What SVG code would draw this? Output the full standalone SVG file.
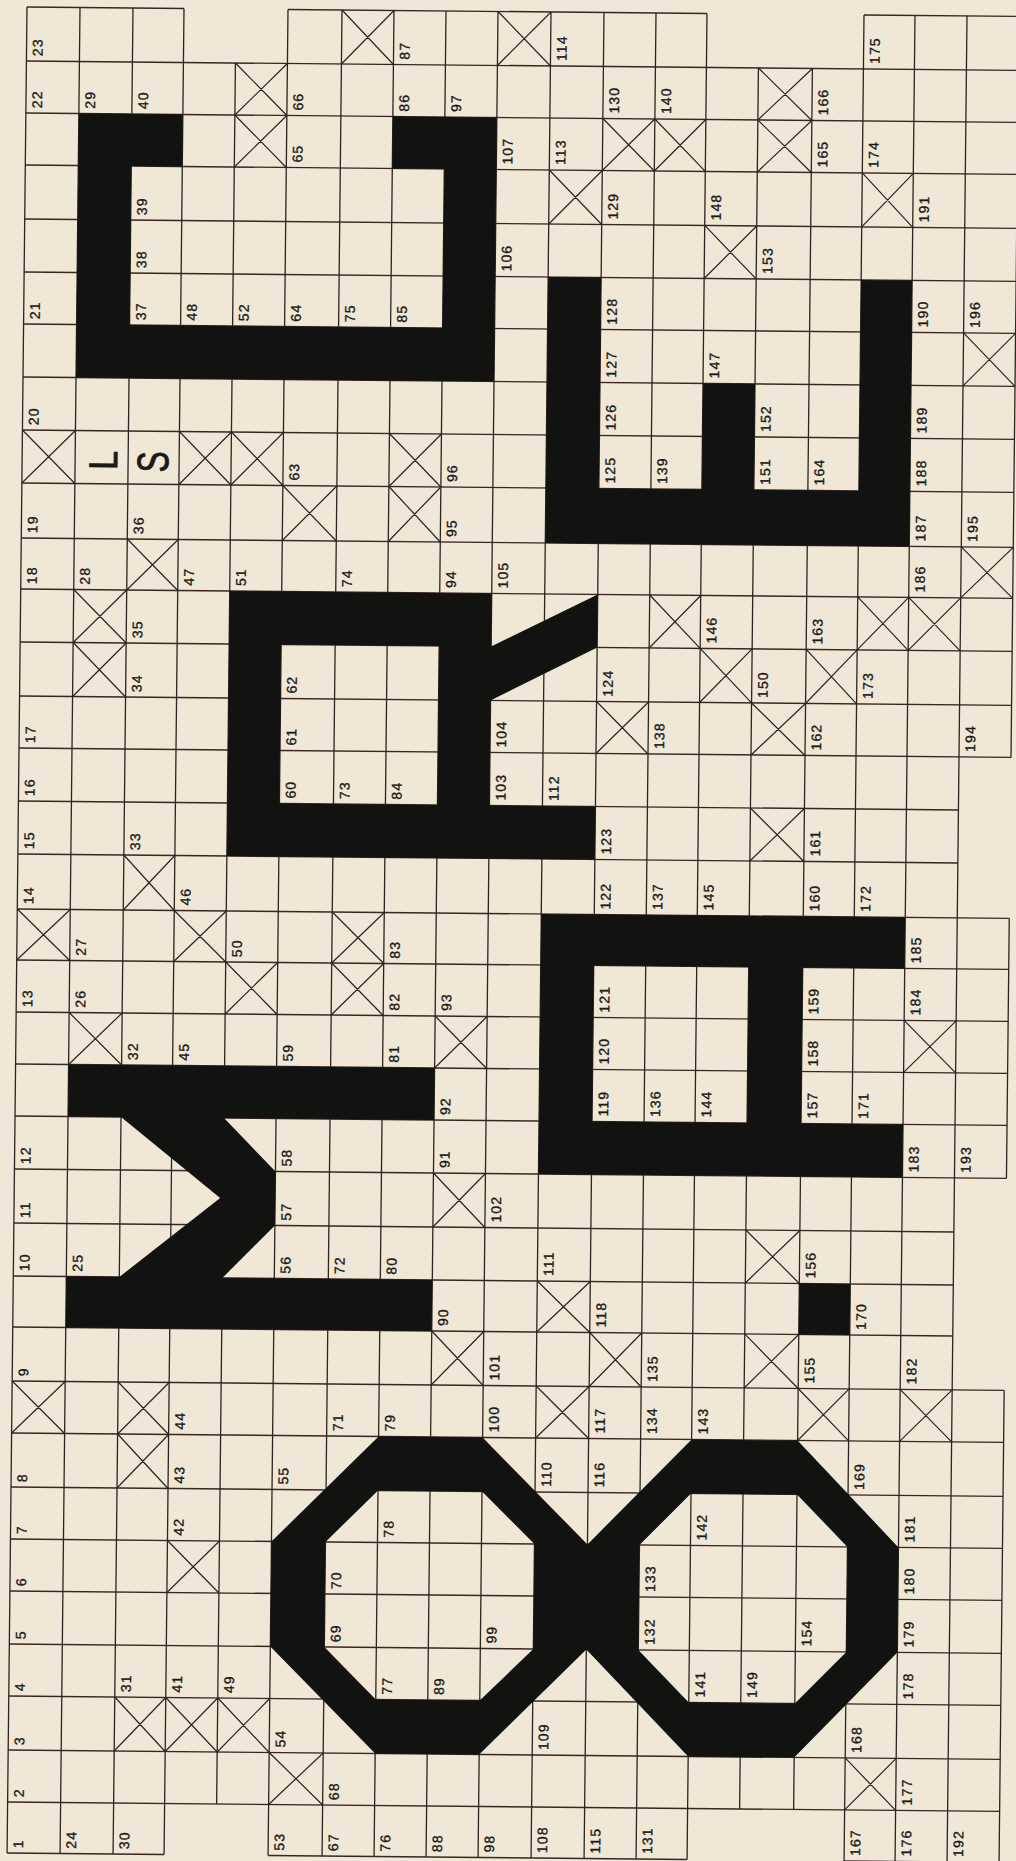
<svg xmlns="http://www.w3.org/2000/svg" width="1016" height="1861" viewBox="0 0 1016 1861">
<style>
.grid{fill:none;stroke:#2c2420;stroke-width:1.3}
.hl{fill:none;stroke:#3a2522;stroke-width:1.4}
.x{fill:none;stroke:#2a2522;stroke-width:1.2}
.blk{fill:#121311;fill-rule:evenodd}
.n text{font-family:"Liberation Sans",Arial,sans-serif;font-size:14px;letter-spacing:1.2px;fill:#1b1a17;stroke:#1b1a17;stroke-width:.35}
.n text.big{font-size:40px;letter-spacing:0;stroke-width:.9}
</style>
<rect width="1016" height="1861" fill="#f0e7d7"/>
<g transform="matrix(1 0.0095 -0.0108 1 1.08 -0.25)">
<g id="grid-horizontal" class="hl">
<path d="M26 7H183M287 7H706M863 7H1018M26 61H1018M26 113H1018M26 165H1018M26 219H1018M26 272H1018M26 324H1018M26 377H1018M26 430H1018M26 483H1018M26 538H1018M26 589H1018M26 642H1018M26 696H1018M26 748H1018M26 801H966M26 854H966M26 909H1018M26 960H1018M26 1012H1018M26 1064H1018M26 1116H1018M26 1169H1018M26 1223H966M26 1276H966M26 1327H966M26 1381H1018M26 1433H1018M26 1487H1018M26 1539H1018M26 1591H1018M26 1644H1018M26 1696H1018M26 1750H1018M26 1802H1018M26 1853H183M287 1853H706M863 1853H1018"/>
</g>
<g id="grid-vertical" class="grid">
<path d="M26 7V1853M79 7V1853M132 7V1853M183 7V1853M235 61V1802M287 7V1853M341 7V1853M393 7V1853M445 7V1853M497 7V1853M550 7V1853M603 7V1853M655 7V1853M706 7V1853M758 61V1802M812 61V1802M863 7V1853M914 7V1853M966 7V1853M1018 7V748M1018 909V1169M1018 1381V1853"/>
</g>
<g id="crosses" class="x">
<path d="M341 7L393 61M393 7L341 61M497 7L550 61M550 7L497 61M235 61L287 113M287 61L235 113M758 61L812 113M812 61L758 113M235 113L287 165M287 113L235 165M603 113L655 165M655 113L603 165M655 113L706 165M706 113L655 165M758 113L812 165M812 113L758 165M550 165L603 219M603 165L550 219M863 165L914 219M914 165L863 219M706 219L758 272M758 219L706 272M966 324L1018 377M1018 324L966 377M26 430L79 483M79 430L26 483M183 430L235 483M235 430L183 483M235 430L287 483M287 430L235 483M393 430L445 483M445 430L393 483M287 483L341 538M341 483L287 538M393 483L445 538M445 483L393 538M132 538L183 589M183 538L132 589M966 538L1018 589M1018 538L966 589M79 589L132 642M132 589L79 642M655 589L706 642M706 589L655 642M863 589L914 642M914 589L863 642M914 589L966 642M966 589L914 642M79 642L132 696M132 642L79 696M706 642L758 696M758 642L706 696M812 642L863 696M863 642L812 696M603 696L655 748M655 696L603 748M758 696L812 748M812 696L758 748M758 801L812 854M812 801L758 854M132 854L183 909M183 854L132 909M26 909L79 960M79 909L26 960M183 909L235 960M235 909L183 960M341 909L393 960M393 909L341 960M235 960L287 1012M287 960L235 1012M341 960L393 1012M393 960L341 1012M79 1012L132 1064M132 1012L79 1064M445 1012L497 1064M497 1012L445 1064M914 1012L966 1064M966 1012L914 1064M445 1169L497 1223M497 1169L445 1223M758 1223L812 1276M812 1223L758 1276M550 1276L603 1327M603 1276L550 1327M445 1327L497 1381M497 1327L445 1381M603 1327L655 1381M655 1327L603 1381M758 1327L812 1381M812 1327L758 1381M26 1381L79 1433M79 1381L26 1433M132 1381L183 1433M183 1381L132 1433M550 1381L603 1433M603 1381L550 1433M812 1381L863 1433M863 1381L812 1433M914 1381L966 1433M966 1381L914 1433M132 1433L183 1487M183 1433L132 1487M183 1539L235 1591M235 1539L183 1591M132 1696L183 1750M183 1696L132 1750M183 1696L235 1750M235 1696L183 1750M235 1696L287 1750M287 1696L235 1750M287 1750L341 1802M341 1750L287 1802M863 1750L914 1802M914 1750L863 1802"/>
</g>
<g id="letters">
<path id="letter-c" class="blk" d="M79 113H183V165H132V324H445V165H393V113H497V377H79Z"/>
<path id="letter-e" class="blk" d="M550 272H603V483H706V377H758V483H863V272H914V538H550Z"/>
<path id="letter-r" class="blk" d="M235 589H497V642L603 589V642L497 696V801H603V854H235ZM287 642V801H445V642Z"/>
<path id="letter-m" class="blk" d="M79 1064H445V1116H235L287 1169V1223L235 1276H445V1327H79V1276H132L232 1196L132 1116H79Z"/>
<path id="letter-a" class="blk" d="M550 909H914V960H812V1116H914V1169H550ZM603 960V1116H758V960Z"/>
<rect id="dot" class="blk" x="812" y="1276" width="51" height="51"/>
<path id="figure-8" class="blk" d="M393 1433H497L603 1539L706 1433H812L914 1539V1644L812 1750H706L603 1644L497 1750H393L287 1644V1539ZM393 1487L341 1539V1644L393 1696H497L550 1644V1539L497 1487ZM706 1487L655 1539V1644L706 1696H812L863 1644V1539L812 1487Z"/>
</g>
<g id="labels" class="n" transform="rotate(-90)">
<text x="-1848" y="42">1</text><text x="-1797" y="42">2</text><text x="-1745" y="42">3</text><text x="-1691" y="42">4</text><text x="-1639" y="42">5</text><text x="-1586" y="42">6</text><text x="-1534" y="42">7</text><text x="-1482" y="42">8</text><text x="-1376" y="42">9</text><text x="-1271" y="42">10</text><text x="-1218" y="42">11</text><text x="-1164" y="42">12</text><text x="-1007" y="42">13</text><text x="-904" y="42">14</text><text x="-849" y="42">15</text><text x="-796" y="42">16</text><text x="-743" y="42">17</text><text x="-584" y="42">18</text><text x="-533" y="42">19</text><text x="-425" y="42">20</text><text x="-319" y="42">21</text><text x="-108" y="42">22</text><text x="-56" y="42">23</text>
<text x="-1848" y="95">24</text><text x="-1271" y="95">25</text><text x="-1007" y="95">26</text><text x="-955" y="95">27</text><text x="-584" y="95">28</text><text x="-108" y="95">29</text>
<text x="-1848" y="148">30</text><text x="-1691" y="148">31</text><text x="-1059" y="148">32</text><text x="-849" y="148">33</text><text x="-691" y="148">34</text><text x="-637" y="148">35</text><text x="-533" y="148">36</text><text x="-319" y="148">37</text><text x="-267" y="148">38</text><text x="-214" y="148">39</text><text x="-108" y="148">40</text>
<text x="-1691" y="199">41</text><text x="-1534" y="199">42</text><text x="-1482" y="199">43</text><text x="-1428" y="199">44</text><text x="-1059" y="199">45</text><text x="-904" y="199">46</text><text x="-584" y="199">47</text><text x="-319" y="199">48</text>
<text x="-1691" y="251">49</text><text x="-955" y="251">50</text><text x="-584" y="251">51</text><text x="-319" y="251">52</text>
<text x="-1848" y="303">53</text><text x="-1745" y="303">54</text><text x="-1482" y="303">55</text><text x="-1271" y="303">56</text><text x="-1218" y="303">57</text><text x="-1164" y="303">58</text><text x="-1059" y="303">59</text><text x="-796" y="303">60</text><text x="-743" y="303">61</text><text x="-691" y="303">62</text><text x="-478" y="303">63</text><text x="-319" y="303">64</text><text x="-160" y="303">65</text><text x="-108" y="303">66</text>
<text x="-1848" y="357">67</text><text x="-1797" y="357">68</text><text x="-1639" y="357">69</text><text x="-1586" y="357">70</text><text x="-1428" y="357">71</text><text x="-1271" y="357">72</text><text x="-796" y="357">73</text><text x="-584" y="357">74</text><text x="-319" y="357">75</text>
<text x="-1848" y="409">76</text><text x="-1691" y="409">77</text><text x="-1534" y="409">78</text><text x="-1428" y="409">79</text><text x="-1271" y="409">80</text><text x="-1059" y="409">81</text><text x="-1007" y="409">82</text><text x="-955" y="409">83</text><text x="-796" y="409">84</text><text x="-319" y="409">85</text><text x="-108" y="409">86</text><text x="-56" y="409">87</text>
<text x="-1848" y="461">88</text><text x="-1691" y="461">89</text><text x="-1322" y="461">90</text><text x="-1164" y="461">91</text><text x="-1111" y="461">92</text><text x="-1007" y="461">93</text><text x="-584" y="461">94</text><text x="-533" y="461">95</text><text x="-478" y="461">96</text><text x="-108" y="461">97</text>
<text x="-1848" y="513">98</text><text x="-1639" y="513">99</text><text x="-1428" y="513">100</text><text x="-1376" y="513">101</text><text x="-1218" y="513">102</text><text x="-796" y="513">103</text><text x="-743" y="513">104</text><text x="-584" y="513">105</text><text x="-267" y="513">106</text><text x="-160" y="513">107</text>
<text x="-1848" y="566">108</text><text x="-1745" y="566">109</text><text x="-1482" y="566">110</text><text x="-1271" y="566">111</text><text x="-796" y="566">112</text><text x="-160" y="566">113</text><text x="-56" y="566">114</text>
<text x="-1848" y="619">115</text><text x="-1482" y="619">116</text><text x="-1428" y="619">117</text><text x="-1322" y="619">118</text><text x="-1111" y="619">119</text><text x="-1059" y="619">120</text><text x="-1007" y="619">121</text><text x="-904" y="619">122</text><text x="-849" y="619">123</text><text x="-691" y="619">124</text><text x="-478" y="619">125</text><text x="-425" y="619">126</text><text x="-372" y="619">127</text><text x="-319" y="619">128</text><text x="-214" y="619">129</text><text x="-108" y="619">130</text>
<text x="-1848" y="671">131</text><text x="-1639" y="671">132</text><text x="-1586" y="671">133</text><text x="-1428" y="671">134</text><text x="-1376" y="671">135</text><text x="-1111" y="671">136</text><text x="-904" y="671">137</text><text x="-743" y="671">138</text><text x="-478" y="671">139</text><text x="-108" y="671">140</text>
<text x="-1691" y="722">141</text><text x="-1534" y="722">142</text><text x="-1428" y="722">143</text><text x="-1111" y="722">144</text><text x="-904" y="722">145</text><text x="-637" y="722">146</text><text x="-372" y="722">147</text><text x="-214" y="722">148</text>
<text x="-1691" y="774">149</text><text x="-691" y="774">150</text><text x="-478" y="774">151</text><text x="-425" y="774">152</text><text x="-267" y="774">153</text>
<text x="-1639" y="828">154</text><text x="-1376" y="828">155</text><text x="-1271" y="828">156</text><text x="-1111" y="828">157</text><text x="-1059" y="828">158</text><text x="-1007" y="828">159</text><text x="-904" y="828">160</text><text x="-849" y="828">161</text><text x="-743" y="828">162</text><text x="-637" y="828">163</text><text x="-478" y="828">164</text><text x="-160" y="828">165</text><text x="-108" y="828">166</text>
<text x="-1848" y="879">167</text><text x="-1745" y="879">168</text><text x="-1482" y="879">169</text><text x="-1322" y="879">170</text><text x="-1111" y="879">171</text><text x="-904" y="879">172</text><text x="-691" y="879">173</text><text x="-160" y="879">174</text><text x="-56" y="879">175</text>
<text x="-1848" y="930">176</text><text x="-1797" y="930">177</text><text x="-1691" y="930">178</text><text x="-1639" y="930">179</text><text x="-1586" y="930">180</text><text x="-1534" y="930">181</text><text x="-1376" y="930">182</text><text x="-1164" y="930">183</text><text x="-1007" y="930">184</text><text x="-955" y="930">185</text><text x="-584" y="930">186</text><text x="-533" y="930">187</text><text x="-478" y="930">188</text><text x="-425" y="930">189</text><text x="-319" y="930">190</text><text x="-214" y="930">191</text>
<text x="-1848" y="982">192</text><text x="-1164" y="982">193</text><text x="-743" y="982">194</text><text x="-533" y="982">195</text><text x="-319" y="982">196</text>
<text class="big" x="-469" y="121" textLength="19" lengthAdjust="spacingAndGlyphs">L</text>
<text class="big" style="font-size:44px" x="-471" y="172" textLength="21" lengthAdjust="spacingAndGlyphs">S</text>
</g>
</g>
</svg>
